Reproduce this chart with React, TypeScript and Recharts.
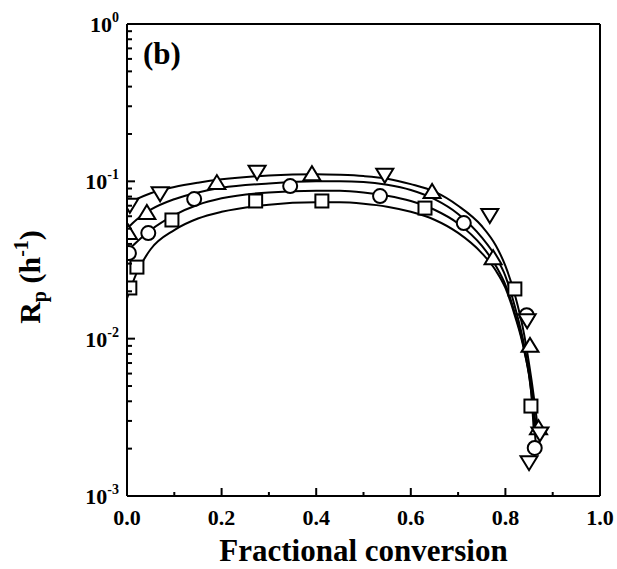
import { ComposedChart, Line, Scatter, XAxis, YAxis, ReferenceLine } from 'recharts';

const DOWN_X = [0.006, 0.07, 0.275, 0.545, 0.767, 0.846, 0.85, 0.873];
const DOWN_Y = [0.071, 0.084, 0.115, 0.11, 0.061, 0.0131, 0.00164, 0.0025];
const UP_X = [0.003, 0.042, 0.19, 0.391, 0.645, 0.774, 0.852, 0.87];
const UP_Y = [0.047, 0.063, 0.0975, 0.111, 0.0855, 0.0325, 0.009, 0.0027];
const CIRCLE_X = [0.004, 0.045, 0.142, 0.345, 0.535, 0.712, 0.845, 0.862];
const CIRCLE_Y = [0.035, 0.0469, 0.0771, 0.0933, 0.0806, 0.0543, 0.0141, 0.00202];
const SQUARE_X = [0.006, 0.021, 0.095, 0.272, 0.412, 0.63, 0.82, 0.854];
const SQUARE_Y = [0.021, 0.0285, 0.0568, 0.075, 0.075, 0.0676, 0.0207, 0.00373];

// fitted curves
const FIT_X = [0, 0.02, 0.05, 0.1, 0.15, 0.2, 0.3, 0.4, 0.45, 0.5, 0.55, 0.6, 0.65, 0.7, 0.75, 0.78, 0.8, 0.82, 0.84, 0.855];
const FIT_END = [0.87, 0.866, 0.864, 0.86];
const FIT_A = [0.072, 0.077, 0.084, 0.092, 0.098, 0.103, 0.109, 0.111, 0.11, 0.108, 0.104, 0.096, 0.086, 0.07, 0.052, 0.039, 0.029, 0.019, 0.0105, 0.0055, 0.0025];
const FIT_B = [0.05, 0.057, 0.066, 0.077, 0.085, 0.091, 0.097, 0.1, 0.1, 0.099, 0.095, 0.088, 0.077, 0.062, 0.044, 0.033, 0.025, 0.016, 0.009, 0.0048, 0.0025];
const FIT_C = [0.036, 0.041, 0.049, 0.061, 0.071, 0.078, 0.085, 0.087, 0.087, 0.085, 0.081, 0.075, 0.066, 0.054, 0.039, 0.029, 0.022, 0.0145, 0.0085, 0.0045, 0.0022];
const FIT_D = [0.018, 0.026, 0.037, 0.049, 0.058, 0.064, 0.071, 0.0735, 0.0735, 0.072, 0.069, 0.064, 0.057, 0.047, 0.035, 0.027, 0.021, 0.014, 0.0083, 0.0044, 0.0026];

const X_TICKS = [0, 0.1, 0.2, 0.3, 0.4, 0.5, 0.6, 0.7, 0.8, 0.9, 1.0];
const Y_TICKS = [
  0.001, 0.002, 0.003, 0.004, 0.005, 0.006, 0.007, 0.008, 0.009,
  0.01, 0.02, 0.03, 0.04, 0.05, 0.06, 0.07, 0.08, 0.09,
  0.1, 0.2, 0.3, 0.4, 0.5, 0.6, 0.7, 0.8, 0.9, 1,
];

const FONT = "'Liberation Serif', 'Times New Roman', serif";
const W = 617;
const H = 569;
const MARGIN = { top: 24, right: 17, left: 0, bottom: 0 };
const Y_AXIS_W = 127;
const X_AXIS_H = 73;

const pts = (xs: number[], ys: number[]) => xs.map((x, i) => ({ x, y: ys[i] }));
const fit = (ys: number[], end: number) => pts([...FIT_X, end], ys);

// markers are cut at the frame, like the original plot
const CLIP = 'url(#plot-clip)';

const DownTri = ({ cx, cy }: any) => (
  <path d={`M${cx - 8.5},${cy - 6} L${cx + 8.5},${cy - 6} L${cx},${cy + 8} Z`} fill="#fff" stroke="#000" strokeWidth={2} clipPath={CLIP} />
);
const UpTri = ({ cx, cy }: any) => (
  <path d={`M${cx - 8.5},${cy + 6} L${cx + 8.5},${cy + 6} L${cx},${cy - 8} Z`} fill="#fff" stroke="#000" strokeWidth={2} clipPath={CLIP} />
);
const Circ = ({ cx, cy }: any) => <circle cx={cx} cy={cy} r={7} fill="#fff" stroke="#000" strokeWidth={2} clipPath={CLIP} />;
const Sq = ({ cx, cy }: any) => (
  <rect x={cx - 6.5} y={cy - 6.5} width={13} height={13} fill="#fff" stroke="#000" strokeWidth={2} clipPath={CLIP} />
);

const XTick = ({ x, y, payload }: any) => {
  const v = payload.value;
  const major = Math.round(v * 10) % 2 === 0;
  return (
    <g>
      <line x1={x} x2={x} y1={y} y2={y - (major ? 8 : 4)} stroke="#000" strokeWidth={2} />
      {major && (
        <text x={x} y={y + 29} textAnchor="middle" fontFamily={FONT} fontWeight="bold" fontSize={22} fill="#000">
          {v.toFixed(1)}
        </text>
      )}
    </g>
  );
};

const YTick = ({ x, y, payload }: any) => {
  const v = payload.value;
  const lg = Math.log10(v);
  const exp = Math.round(lg);
  const major = Math.abs(lg - exp) < 1e-6;
  return (
    <g>
      <line x1={x} x2={x + (major ? 8 : 5)} y1={y} y2={y} stroke="#000" strokeWidth={2} />
      {major && (
        <text x={x - 8} y={y + 8} textAnchor="end" fontFamily={FONT} fontWeight="bold" fontSize={22} fill="#000">
          10
          <tspan fontSize={14} dy={-10}>{exp === 0 ? '0' : `-${-exp}`}</tspan>
        </text>
      )}
    </g>
  );
};

export default function App() {
  const plotX = MARGIN.left + Y_AXIS_W;
  const plotY = MARGIN.top;
  const plotW = W - plotX - MARGIN.right;
  const plotH = H - plotY - X_AXIS_H - MARGIN.bottom;
  return (
    <div style={{ position: 'absolute', left: 0, top: 0, width: W, height: H, background: '#fff' }}>
      <svg width={0} height={0} style={{ position: 'absolute' }}>
        <defs>
          <clipPath id="plot-clip" clipPathUnits="userSpaceOnUse">
            <rect x={plotX} y={plotY} width={plotW} height={plotH} />
          </clipPath>
        </defs>
      </svg>
      <ComposedChart width={W} height={H} margin={MARGIN}>
        <XAxis
          dataKey="x"
          type="number"
          domain={[0, 1]}
          ticks={X_TICKS}
          interval={0}
          height={X_AXIS_H}
          tickSize={0}
          tickMargin={0}
          tickLine={false}
          axisLine={{ stroke: '#000', strokeWidth: 2 }}
          tick={<XTick />}
          allowDataOverflow
        />
        <YAxis
          type="number"
          scale="log"
          domain={[0.001, 1]}
          ticks={Y_TICKS}
          interval={0}
          width={Y_AXIS_W}
          tickSize={0}
          tickMargin={0}
          tickLine={false}
          axisLine={{ stroke: '#000', strokeWidth: 2 }}
          tick={<YTick />}
          allowDataOverflow
        />
        <Line data={fit(FIT_A, FIT_END[0])} dataKey="y" type="monotone" dot={false} stroke="#000" strokeWidth={2} isAnimationActive={false} />
        <Line data={fit(FIT_B, FIT_END[1])} dataKey="y" type="monotone" dot={false} stroke="#000" strokeWidth={2} isAnimationActive={false} />
        <Line data={fit(FIT_C, FIT_END[2])} dataKey="y" type="monotone" dot={false} stroke="#000" strokeWidth={2} isAnimationActive={false} />
        <Line data={fit(FIT_D, FIT_END[3])} dataKey="y" type="monotone" dot={false} stroke="#000" strokeWidth={2} isAnimationActive={false} />
        <Scatter data={pts(SQUARE_X, SQUARE_Y)} dataKey="y" shape={Sq} isAnimationActive={false} />
        <Scatter data={pts(CIRCLE_X, CIRCLE_Y)} dataKey="y" shape={Circ} isAnimationActive={false} />
        <Scatter data={pts(UP_X, UP_Y)} dataKey="y" shape={UpTri} isAnimationActive={false} />
        <Scatter data={pts(DOWN_X, DOWN_Y)} dataKey="y" shape={DownTri} isAnimationActive={false} />
        <ReferenceLine y={1} stroke="#000" strokeWidth={2} />
        <ReferenceLine x={1} stroke="#000" strokeWidth={2} />
      </ComposedChart>
      <svg width={W} height={H} style={{ position: 'absolute', left: 0, top: 0, pointerEvents: 'none' }}>
        <line x1={plotX} x2={plotX} y1={plotY} y2={plotY + plotH} stroke="#000" strokeWidth={2} />
        <text x={143} y={64} fontFamily={FONT} fontWeight="bold" fontSize={31} fill="#000">(b)</text>
        <text x={363.5} y={561} textAnchor="middle" fontFamily={FONT} fontWeight="bold" fontSize={31} fill="#000">
          Fractional conversion
        </text>
        <text transform="translate(40,277) rotate(-90)" textAnchor="middle" fontFamily={FONT} fontWeight="bold" fontSize={30} fill="#000">
          R<tspan fontSize={20} dy={6}>p</tspan>
          <tspan dy={-6}> (h</tspan>
          <tspan fontSize={20} dy={-12}>-1</tspan>
          <tspan dy={12}>)</tspan>
        </text>
      </svg>
    </div>
  );
}
